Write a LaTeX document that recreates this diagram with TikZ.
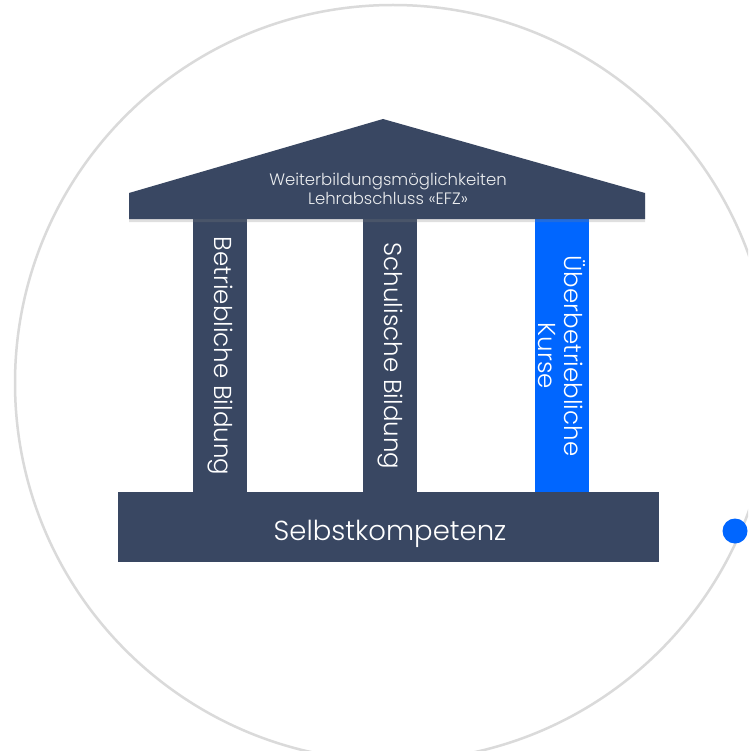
\documentclass[tikz,border=0pt]{standalone}
\usepackage{fontspec}
\setmainfont{Poppins}[UprightFont=* Light]
\usetikzlibrary{shadows}
\definecolor{navy}{HTML}{394762}
\definecolor{brightblue}{HTML}{0066FF}
\definecolor{ringgray}{HTML}{DADADA}
\tikzset{
  pillar/.style={minimum width=274pt, minimum height=54pt, inner sep=0pt, text=white, align=center, rotate=-90, font=\fontsize{24.5}{26}\selectfont},
}
\begin{document}
\begin{tikzpicture}[x=1pt, y=-1pt]
    \useasboundingbox (0,0) rectangle (748,751);
    \clip (0,0) rectangle (748,751);
    \fill[white] (0,0) rectangle (748,751);
    \draw[ringgray, line width=2.5pt] (393,383) circle[radius=378pt];
    \node[circle, fill=brightblue, minimum size=25pt, inner sep=0pt] (dot) at (735,531) {};

    \node[pillar, fill=navy] (betrieb) at (220,356) {Betriebliche Bildung};
    \node[pillar, fill=navy] (schule) at (390,356) {Schulische Bildung};
    \node[pillar, fill=brightblue] (uek) at (562,356) {Überbetriebliche\\Kurse};

    \fill[navy, drop shadow={shadow xshift=0pt, shadow yshift=-3pt, opacity=0.25}] (129,193) -- (383,119) -- (645,193) -- (645,219) -- (129,219) -- cycle;
    \node[text=white!90!navy, align=center, font=\fontsize{16.5}{18.5}\selectfont] (roof) at (388,189) {Weiterbildungsmöglichkeiten\\Lehrabschluss «EFZ»};

    \node[fill=navy, minimum width=541pt, minimum height=70pt, inner sep=0pt] (base) at (388.5,527) {};
    \node[text=white, font=\fontsize{27.5}{30}\selectfont] (baselabel) at (390,534) {Selbstkompetenz};
\end{tikzpicture}
\end{document}
